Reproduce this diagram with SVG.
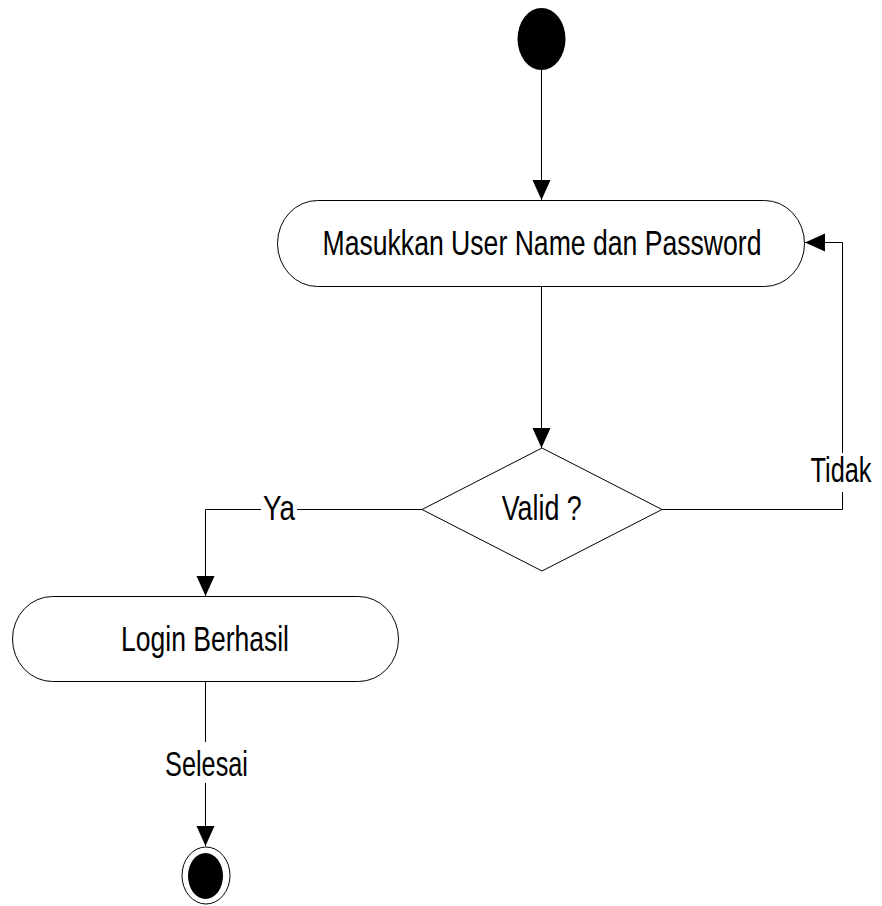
<svg xmlns="http://www.w3.org/2000/svg" width="882" height="906" viewBox="0 0 882 906">
<defs>
<style>
.node{fill:#fff;stroke:#000;stroke-width:1}
.edge{fill:none;stroke:#000;stroke-width:1}
.lbl{font-family:"Liberation Sans",Arial,sans-serif;font-size:26.5px;fill:#000;text-anchor:middle}
.bg{fill:#fff}
</style>
<marker id="arr" markerUnits="userSpaceOnUse" markerWidth="21" markerHeight="19" refX="20" refY="9" orient="auto" viewBox="0 0 21 19">
<path d="M0,0 L20,9 L0,18 Z" fill="#000"/>
</marker>
</defs>
<rect width="882" height="906" fill="#fff"/>
<g id="connectors">
<path class="edge" d="M541.5,70 V200" marker-end="url(#arr)"/>
<path class="edge" d="M541.5,287 V448" marker-end="url(#arr)"/>
<path class="edge" d="M422,509.5 H205.5 V596" marker-end="url(#arr)"/>
<path class="edge" d="M662,509.5 H842.5 V242.5 H805" marker-end="url(#arr)"/>
<path class="edge" d="M205.5,682 V846" marker-end="url(#arr)"/>
<rect class="bg" x="261" y="494" width="36" height="30"/>
<text class="lbl" transform="translate(279,520) scale(1,1.3)" textLength="32" lengthAdjust="spacingAndGlyphs">Ya</text>
<rect class="bg" x="808" y="453" width="66" height="39"/>
<text class="lbl" transform="translate(841,482) scale(1,1.3)" textLength="61" lengthAdjust="spacingAndGlyphs">Tidak</text>
<rect class="bg" x="162" y="742" width="89" height="41"/>
<text class="lbl" transform="translate(206.5,776) scale(1,1.3)" textLength="83" lengthAdjust="spacingAndGlyphs">Selesai</text>
</g>
<g id="start">
<ellipse cx="541.5" cy="39" rx="24" ry="31" fill="#000"/>
</g>
<g id="input">
<rect class="node" x="277.5" y="200.5" width="527" height="86" rx="40" ry="43"/>
<text class="lbl" transform="translate(542,254.5) scale(1,1.3)" textLength="439" lengthAdjust="spacingAndGlyphs">Masukkan User Name dan Password</text>
</g>
<g id="decision">
<polygon class="node" points="542,448 662,509.5 542,571 422,509.5"/>
<text class="lbl" transform="translate(541.7,520) scale(1,1.3)" textLength="80" lengthAdjust="spacingAndGlyphs">Valid ?</text>
</g>
<g id="success">
<rect class="node" x="12.5" y="596.5" width="386" height="85" rx="40" ry="42.5"/>
<text class="lbl" transform="translate(205,651) scale(1,1.3)" textLength="168" lengthAdjust="spacingAndGlyphs">Login Berhasil</text>
</g>
<g id="end">
<ellipse cx="206" cy="875.5" rx="24" ry="28.5" fill="#fff" stroke="#000" stroke-width="1"/>
<ellipse cx="205.5" cy="876" rx="17.5" ry="23" fill="#000"/>
</g>
</svg>
